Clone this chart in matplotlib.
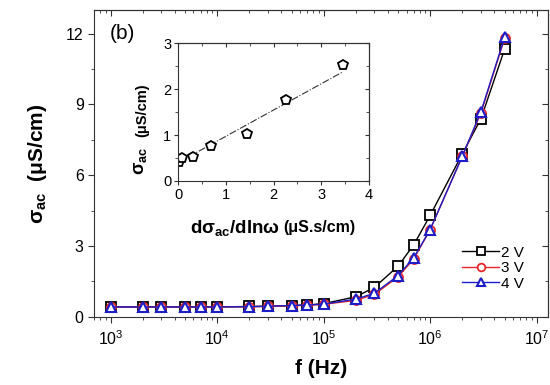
import numpy as np
import matplotlib
matplotlib.use("Agg")
import matplotlib.pyplot as plt
from matplotlib.ticker import MultipleLocator, LogLocator

plt.rcParams['font.family'] = ['Liberation Sans', 'DejaVu Sans']
plt.rcParams['mathtext.fontset'] = 'custom'
plt.rcParams['mathtext.rm'] = 'Liberation Sans'
plt.rcParams['mathtext.it'] = 'Liberation Sans:italic'
plt.rcParams['mathtext.bf'] = 'Liberation Sans:bold'

# frecuencias (Hz)
freq = [1e3, 2e3, 3e3, 5e3, 7e3, 1e4, 2e4, 3e4, 5e4, 7e4, 1e5,
        2e5, 3e5, 5e5, 7e5, 1e6, 2e6, 3e6, 5e6]
sigma_2v = [0.42, 0.42, 0.42, 0.42, 0.42, 0.42, 0.44, 0.45, 0.48, 0.50, 0.56,
            0.85, 1.25, 2.15, 3.05, 4.30, 6.90, 8.40, 11.35]
sigma_3v = [0.42, 0.42, 0.42, 0.42, 0.42, 0.42, 0.43, 0.44, 0.47, 0.49, 0.53,
            0.70, 0.95, 1.70, 2.45, 3.70, 6.80, 8.65, 11.80]
sigma_4v = [0.42, 0.42, 0.42, 0.42, 0.42, 0.42, 0.43, 0.45, 0.48, 0.50, 0.54,
            0.75, 1.00, 1.75, 2.50, 3.70, 6.80, 8.70, 11.85]
etiquetas = ['2 V', '3 V', '4 V']

# inset
dsig = [0.02, 0.09, 0.31, 0.68, 1.45, 2.25, 3.46]
sig_in = [0.42, 0.49, 0.53, 0.75, 1.02, 1.76, 2.52]
ajuste_x = [0.0, 3.46]
ajuste_y = [0.40, 2.38]

gris = '#333333'

def ticks_espejo(eje, mayor, menor, log=False, largo=(4, 2.5)):
    # ticks hacia adentro arriba y a la derecha
    t = eje.secondary_xaxis('top')
    r = eje.secondary_yaxis('right')
    if log:
        t.xaxis.set_major_locator(LogLocator(base=10, numticks=10))
        t.xaxis.set_minor_locator(LogLocator(base=10, subs=np.arange(2, 10), numticks=20))
    else:
        t.xaxis.set_major_locator(MultipleLocator(mayor[0]))
        t.xaxis.set_minor_locator(MultipleLocator(menor[0]))
    r.yaxis.set_major_locator(MultipleLocator(mayor[1]))
    r.yaxis.set_minor_locator(MultipleLocator(menor[1]))
    for a in (t, r):
        a.tick_params(which='both', direction='in', labeltop=False,
                      labelright=False, color=gris)
        a.tick_params(which='major', length=largo[0])
        a.tick_params(which='minor', length=largo[1])

fig = plt.figure(figsize=(5.5, 3.85), dpi=100)
ax = fig.add_axes([0.171, 0.177, 0.825, 0.797])

ax.plot(freq, sigma_2v, color='black', lw=1, marker='s', ms=6.5, mfc='white',
        mew=1.3, label=etiquetas[0])
ax.plot(freq, sigma_3v, color='#e8262a', lw=1, marker='o', ms=6.5, mfc='white',
        mew=1.3, label=etiquetas[1])
ax.plot(freq, sigma_4v, color='#1c1cc8', lw=1, marker='^', ms=7.5, mfc='white',
        mew=1.5, label=etiquetas[2])

ax.set_xscale('log')
ax.set_xlim(700, 1.27e7)
ax.set_ylim(0, 13)
ax.yaxis.set_major_locator(MultipleLocator(3))
ax.yaxis.set_minor_locator(MultipleLocator(1.5))
ax.xaxis.set_major_locator(LogLocator(base=10, numticks=10))
ax.xaxis.set_minor_locator(LogLocator(base=10, subs=np.arange(2, 10), numticks=20))
ax.tick_params(which='both', direction='out', labelsize=11.5, color=gris)
ax.tick_params(which='major', length=4)
ax.tick_params(which='minor', length=2.5)
ax.tick_params(axis='x', pad=5)
for s in ax.spines.values():
    s.set_color(gris)
ticks_espejo(ax, (None, 3), (None, 1.5), log=True)

ax.set_xlabel('f (Hz)', fontsize=15, fontweight='bold', labelpad=8)
ax.set_ylabel(r'σ$_{\mathbf{ac}}$  (μS/cm)', fontsize=15, fontweight='bold', labelpad=12)
ax.text(0.035, 0.905, '(b)', transform=ax.transAxes, fontsize=15)

ax.legend(loc='lower right', bbox_to_anchor=(0.96, 0.065), frameon=False,
          fontsize=11, handlelength=2.4, handletextpad=0.1, labelspacing=0.1,
          borderaxespad=0, markerscale=0.85)

# inset
ins = fig.add_axes([0.324, 0.530, 0.347, 0.358])
ins.plot(ajuste_x, ajuste_y, color=gris, lw=0.8, ls='-.')
ins.plot(dsig, sig_in, ls='none', marker='p', ms=7, mfc='white', mec='black', mew=1.3)
ins.set_xlim(0, 4)
ins.set_ylim(0, 3)
ins.xaxis.set_major_locator(MultipleLocator(1))
ins.xaxis.set_minor_locator(MultipleLocator(0.5))
ins.yaxis.set_major_locator(MultipleLocator(1))
ins.yaxis.set_minor_locator(MultipleLocator(0.5))
ins.tick_params(which='both', direction='out', labelsize=10.5, color=gris, pad=2)
ins.tick_params(which='major', length=3)
ins.tick_params(which='minor', length=2)
for s in ins.spines.values():
    s.set_color(gris)
ticks_espejo(ins, (1, 1), (0.5, 0.5), largo=(3, 2))

# etiquetas del inset (parte en letra chica)
ins.text(0.06, -0.34, r'dσ$_{\mathbf{ac}}$/dlnω', transform=ins.transAxes,
         fontsize=13.5, fontweight='bold', ha='left', va='center')
ins.text(0.55, -0.335, '(μS.s/cm)', transform=ins.transAxes,
         fontsize=11.5, fontweight='bold', ha='left', va='center')
ins.text(-0.195, 0.25, r'σ$_{\mathbf{ac}}$', transform=ins.transAxes, rotation=90,
         fontsize=13, fontweight='bold', ha='center', va='top')
ins.text(-0.19, 0.32, '(μS/cm)', transform=ins.transAxes, rotation=90,
         fontsize=10.5, fontweight='bold', ha='center', va='bottom')

fig.savefig('out.png', dpi=100)
